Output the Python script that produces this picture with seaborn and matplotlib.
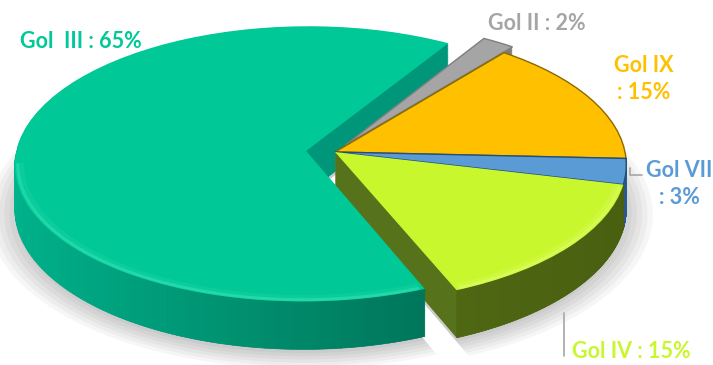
import numpy as np
import matplotlib
matplotlib.use("Agg")
import matplotlib.pyplot as plt
import matplotlib.transforms as mtransforms
from matplotlib.collections import PolyCollection
from matplotlib.lines import Line2D
from matplotlib.colors import to_rgb
import seaborn as sns

# Slices, listed clockwise from just past twelve o'clock
categories = ["Gol II", "Gol IX", "Gol VII", "Gol IV", "Gol III"]
shares = [2, 15, 3, 15, 65]
label_texts = ["Gol II : 2%", "Gol IX\n: 15%", "Gol VII\n: 3%", "Gol IV : 15%", "Gol  III : 65%"]

top_colors = ["#A5A5A5", "#FFC000", "#5B9BD5", "#C8F72E", "#00C896"]
side_colors = ["#7C7C7C", "#B78A00", "#3D71A6", "#56721A", "#00967A"]
wall_light = ["#8C8C8C", "#C99800", "#4A80B8", "#5E7A1A", "#00B48C"]
wall_dark = ["#5E5E5E", "#8A6800", "#2A5888", "#485F10", "#005A45"]
rim_colors = [None, None, None, "#E4FF7A", "#40E8BC"]
edge_colors = ["#7F7F7F", "#8C6900", "#234E7A", None, None]
label_colors = ["#A5A5A5", "#FFC000", "#5B9BD5", "#C8F72E", "#00C896"]
explode = [0.06, 0.0, 0.0, 0.0, 0.10]

START = 58.5          # first slice begins 31.5 deg clockwise from the top
SQUASH = 0.471        # vertical foreshortening of the tilted disc
PERSP = 0.094         # perspective strength (far side smaller)
DEPTH = 0.150         # thickness of the disc

W, H = 713, 365
R, CX, CY = 290.0, 335.0, 152.0


def project(x, y, z=0.0):
    w = 1.0 + PERSP * y
    return x / w, (SQUASH * y + z) / w


class TiltedDisc(mtransforms.Transform):
    """Maps the flat pie plane onto a tilted disc seen in perspective."""
    input_dims = 2
    output_dims = 2
    is_separable = False
    has_inverse = False

    def __init__(self, z=0.0):
        super().__init__()
        self.z = z

    def transform_non_affine(self, values):
        v = np.asarray(values, dtype=float)
        single = v.ndim == 1
        v = v.reshape(-1, 2)
        X, Y = project(v[:, 0], v[:, 1], self.z)
        out = np.column_stack([X, Y])
        return out[0] if single else out


sns.set_theme(style="white")
plt.rcParams["font.family"] = ["Lato", "DejaVu Sans"]

fig = plt.figure(figsize=(W / 100, H / 100), dpi=100)
ax = fig.add_axes([0, 0, 1, 1])

pie_kw = dict(explode=explode, startangle=START, counterclock=False, radius=1.0)

# soft drop shadow under the disc
for grow in np.linspace(1.09, 1.0, 6):
    ax.pie(shares, colors=["#000000"] * len(shares), radius=grow,
           explode=explode, startangle=START, counterclock=False,
           wedgeprops=dict(transform=TiltedDisc(-DEPTH - 0.012) + ax.transData,
                           linewidth=0, alpha=0.035))

# solid body: stacked slabs from the bottom face up to the top
wedges = None
for z in np.linspace(-DEPTH, 0.0, 56, endpoint=False):
    wedges, _ = ax.pie(shares, colors=side_colors,
                       wedgeprops=dict(transform=TiltedDisc(z) + ax.transData,
                                       linewidth=0), **pie_kw)

# shaded outer rim facing the viewer
for i, w in enumerate(wedges):
    phis = np.radians(np.linspace(w.theta1, w.theta2, 240))
    cx0, cy0 = w.center
    quads, cols = [], []
    lo, hi = np.array(to_rgb(wall_light[i])), np.array(to_rgb(wall_dark[i]))
    for a, b in zip(phis[:-1], phis[1:]):
        m = 0.5 * (a + b)
        if np.sin(m) > -0.03:
            continue
        xa, ya = cx0 + w.r * np.cos(a), cy0 + w.r * np.sin(a)
        xb, yb = cx0 + w.r * np.cos(b), cy0 + w.r * np.sin(b)
        quads.append([project(xa, ya, 0.0), project(xb, yb, 0.0),
                      project(xb, yb, -DEPTH), project(xa, ya, -DEPTH)])
        t = (np.cos(m) + 1.0) / 2.0
        cols.append(lo * (1 - t) + hi * t)
    if quads:
        ax.add_collection(PolyCollection(quads, facecolors=cols, edgecolors=cols,
                                         linewidths=0.4, zorder=1.5))

# top faces
tops, _ = ax.pie(shares, colors=top_colors,
                 wedgeprops=dict(transform=TiltedDisc(0.0) + ax.transData,
                                 linewidth=0), **pie_kw)
for w, ec in zip(tops, edge_colors):
    w.set_zorder(2)
    if ec is not None:
        w.set_edgecolor(ec)
        w.set_linewidth(1.0)

# light bevel along the front rim of the large slices
for i, rc in enumerate(rim_colors):
    if rc is None:
        continue
    w = tops[i]
    phis = np.radians(np.linspace(w.theta1 + 0.8, w.theta2 - 0.8, 300))
    phis = phis[np.sin(phis) < -0.08]
    cx0, cy0 = w.center
    for rr, lw, al in ((0.978, 4.0, 0.18), (0.99, 2.2, 0.45)):
        X, Y = project(cx0 + rr * np.cos(phis), cy0 + rr * np.sin(phis))
        ax.plot(X, Y, color=rc, lw=lw, alpha=al, zorder=2.5,
                solid_capstyle="butt")

ax.set_xlim(-CX / R, (W - CX) / R)
ax.set_ylim((CY - H) / R, CY / R)
ax.set_aspect("auto")
ax.axis("off")

# data labels
label_pos = {
    "Gol III": (20, 42, "left"),
    "Gol II": (488, 24, "left"),
    "Gol IX": (644, 79, "center"),
    "Gol VII": (679, 184, "center"),
    "Gol IV": (572, 352, "left"),
}
for name, text, col in zip(categories, label_texts, label_colors):
    px, py, ha = label_pos[name]
    fig.text(px / W, 1 - py / H, text, ha=ha, va="center", color=col,
             fontsize=15.5, fontweight="bold", linespacing=1.4)

# leader lines
leader_gray = "#A6A6A6"
fig.add_artist(Line2D(np.array([630, 630, 642]) / W, 1 - np.array([168, 175, 175]) / H,
                      color=leader_gray, lw=1.2))
fig.add_artist(Line2D(np.array([564, 564]) / W, 1 - np.array([313, 356]) / H,
                      color=leader_gray, lw=1.2))

fig.savefig("out.png", dpi=100, facecolor="white")
